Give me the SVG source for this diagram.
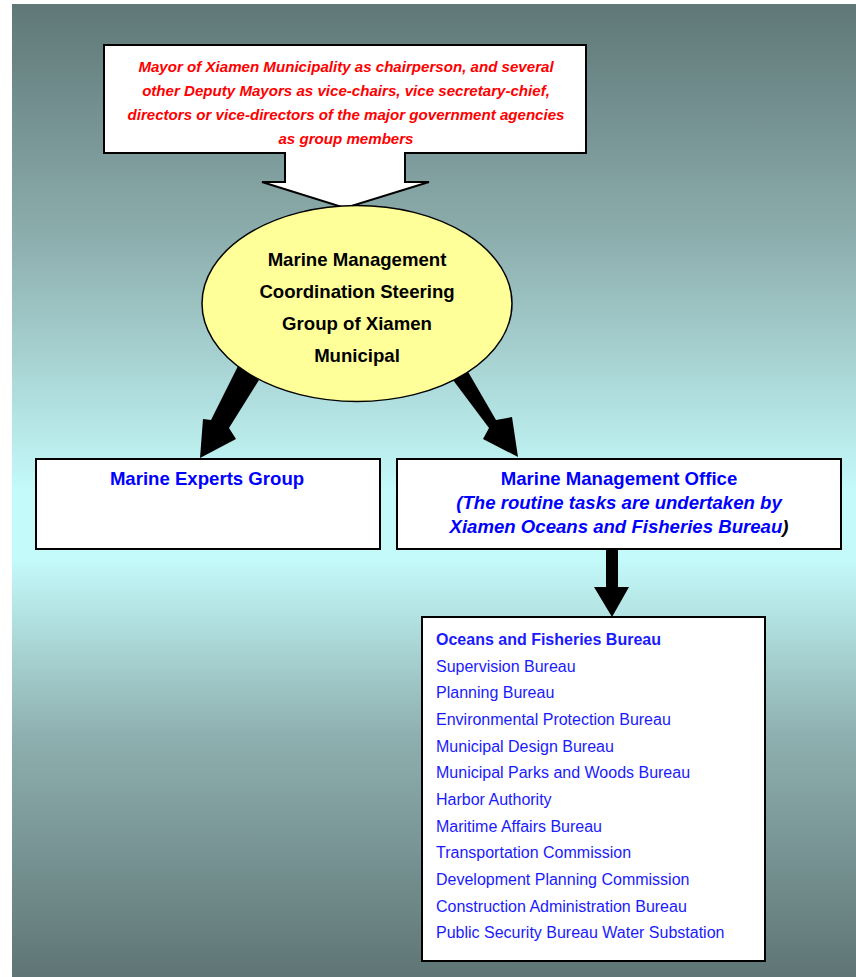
<svg xmlns="http://www.w3.org/2000/svg" width="856" height="977" viewBox="0 0 856 977">
<defs>
<linearGradient id="bg" x1="0" y1="0" x2="0" y2="1">
<stop offset="0" stop-color="#5f7777"/>
<stop offset="0.25" stop-color="#8fb0b0"/>
<stop offset="0.5" stop-color="#c4fafa"/>
<stop offset="0.57" stop-color="#c4fafa"/>
<stop offset="0.75" stop-color="#8fb0b0"/>
<stop offset="1" stop-color="#5f7575"/>
</linearGradient>
<style>
.box{fill:#fff;stroke:#000;stroke-width:2}
.red{font-family:"Liberation Sans",Arial,sans-serif;font-size:15.1px;font-weight:bold;font-style:italic;fill:#ff0000;text-anchor:middle}
.blk{font-family:"Liberation Sans",Arial,sans-serif;font-size:18.6px;font-weight:bold;fill:#000;text-anchor:middle}
.blue{font-family:"Liberation Sans",Arial,sans-serif;font-size:18.6px;font-weight:bold;fill:#0000ff;text-anchor:middle}
.list{font-family:"Liberation Sans",Arial,sans-serif;font-size:16px;fill:#1a1aff}
.arrow{fill:#000}
</style>
</defs>
<rect x="0" y="0" width="856" height="977" fill="#fff"/>
<rect x="12" y="4" width="844" height="973" fill="url(#bg)"/>

<g id="top">
<path class="box" d="M104,45 H586 V153 H405 V182 H429 L345,208 L262,182 H285 V153 H104 Z"/>
<text class="red" x="346" y="72">Mayor of Xiamen Municipality as chairperson, and several</text>
<text class="red" x="346" y="96">other Deputy Mayors as vice-chairs, vice secretary-chief,</text>
<text class="red" x="346" y="120">directors or vice-directors of the major government agencies</text>
<text class="red" x="346" y="144">as group members</text>
</g>

<g id="connectors">
<polygon class="arrow" points="245,370 259,380 229,428 236,439 200,458 203,419 211,420 238,366"/>
<polygon class="arrow" points="453,380 467,370 496,420 512,417 518,457 483,439 489,428"/>
<polygon class="arrow" points="606,549 618,549 618,587 629,587 612,617 594,587 606,587"/>
</g>

<g id="steering">
<ellipse cx="357" cy="303.5" rx="155" ry="98" fill="#ffff99" stroke="#000" stroke-width="1.5"/>
<text class="blk" x="357" y="266">Marine Management</text>
<text class="blk" x="357" y="298">Coordination Steering</text>
<text class="blk" x="357" y="330">Group of Xiamen</text>
<text class="blk" x="357" y="362">Municipal</text>
</g>

<g id="experts">
<rect class="box" x="36" y="459" width="344" height="90"/>
<text class="blue" x="207" y="485">Marine Experts Group</text>
</g>

<g id="office">
<rect class="box" x="397" y="459" width="444" height="90"/>
<text class="blue" x="619" y="485">Marine Management Office</text>
<text class="blue" x="619" y="509" font-style="italic">(The routine tasks are undertaken by</text>
<text class="blue" x="619" y="533" font-style="italic">Xiamen Oceans and Fisheries Bureau<tspan fill="#000">)</tspan></text>
</g>

<g id="bureaus">
<rect class="box" x="422" y="617" width="343" height="344"/>
<text class="list" x="436" y="645" font-weight="bold" fill="#0000ff">Oceans and Fisheries Bureau</text>
<text class="list" x="436" y="672">Supervision Bureau</text>
<text class="list" x="436" y="698">Planning Bureau</text>
<text class="list" x="436" y="725">Environmental Protection Bureau</text>
<text class="list" x="436" y="752">Municipal Design Bureau</text>
<text class="list" x="436" y="778">Municipal Parks and Woods Bureau</text>
<text class="list" x="436" y="805">Harbor Authority</text>
<text class="list" x="436" y="832">Maritime Affairs Bureau</text>
<text class="list" x="436" y="858">Transportation Commission</text>
<text class="list" x="436" y="885">Development Planning Commission</text>
<text class="list" x="436" y="912">Construction Administration Bureau</text>
<text class="list" x="436" y="938">Public Security Bureau Water Substation</text>
</g>
</svg>
